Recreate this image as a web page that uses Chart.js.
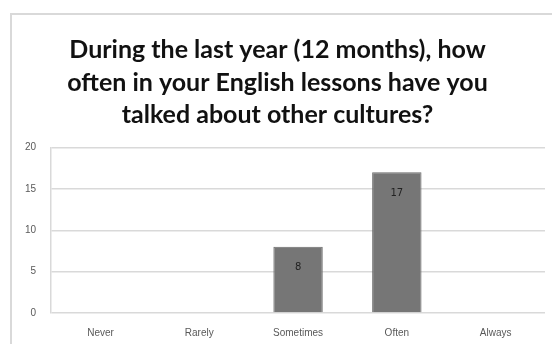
<!DOCTYPE html>
<html>
<head>
<meta charset="utf-8">
<script src="https://cdn.jsdelivr.net/npm/chart.js@4"></script>
<style>
  html, body { margin: 0; padding: 0; background: #fff; }
  #wrap { position: relative; width: 552px; height: 344px; overflow: hidden; }
  #frame {
    position: absolute; left: 10px; top: 13px; width: 600px; height: 400px;
    border-left: 2px solid #d9d9d9; border-top: 2px solid #d9d9d9;
  }
  canvas { position: absolute; left: 0; top: 0; }
</style>
</head>
<body>
<div id="wrap">
  <div id="frame"></div>
  <canvas id="chart" width="552" height="344"></canvas>
</div>
<script>
const categories = ['Never', 'Rarely', 'Sometimes', 'Often', 'Always'];
const counts = [0, 0, 8, 17, 0];
const yTicks = [0, 5, 10, 15, 20];

const titleLines = [
    'During the last year (12 months), how',
    'often in your English lessons have you',
    'talked about other cultures?'
];

// value printed inside the top of each non-zero bar
const barValues = {
    id: 'barValues',
    afterDatasetsDraw(chart) {
        const ctx = chart.ctx;
        const meta = chart.getDatasetMeta(0);
        ctx.save();
        ctx.font = '10px "DejaVu Sans", sans-serif';
        ctx.fillStyle = '#222';
        ctx.textAlign = 'center';
        ctx.textBaseline = 'middle';
        meta.data.forEach((bar, i) => {
            if (!counts[i]) return;
            ctx.fillText(String(counts[i]), bar.x, bar.y + 21);
        });
        ctx.restore();
    }
};

const ctx = document.getElementById('chart').getContext('2d');
new Chart(ctx, {
    type: 'bar',
    data: {
        labels: categories,
        datasets: [{
            data: counts,
            backgroundColor: '#767676',
            borderColor: '#6b6b6b',
            borderWidth: 1,
            barPercentage: 0.5,
            categoryPercentage: 1
        }]
    },
    options: {
        responsive: false,
        animation: false,
        layout: { padding: { left: 10, right: 7, top: 0, bottom: 0 } },
        plugins: {
            legend: { display: false },
            tooltip: { enabled: false },
            title: {
                display: true,
                text: titleLines,
                color: '#111',
                font: { family: 'Lato', size: 25, weight: 'bold', lineHeight: 1.3 },
                padding: { top: 34, bottom: 16 }
            }
        },
        scales: {
            x: {
                grid: { display: false, drawTicks: false },
                border: { display: false },
                afterFit: scale => { scale.height = 31; },
                ticks: {
                    color: '#595959',
                    font: { family: '"Liberation Sans", sans-serif', size: 10 },
                    padding: 14,
                    maxRotation: 0
                }
            },
            y: {
                min: 0,
                max: 20,
                afterBuildTicks: axis => { axis.ticks = yTicks.map(v => ({ value: v })); },
                grid: { color: '#d9d9d9', lineWidth: 1.5, drawTicks: false },
                border: { display: true, color: '#d9d9d9', width: 1.5 },
                ticks: {
                    color: '#595959',
                    font: { family: '"Liberation Sans", sans-serif', size: 10 },
                    padding: 15
                }
            }
        }
    },
    plugins: [barValues]
});
</script>
</body>
</html>
